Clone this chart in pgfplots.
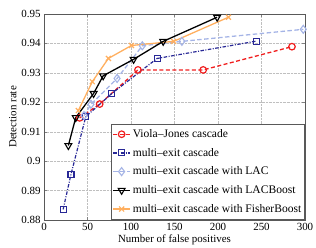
\documentclass[border=0pt]{standalone}
\usepackage{fontspec}
\setmainfont{Liberation Serif}
\usepackage{pgfplots}
\pgfplotsset{compat=1.18}
\definecolor{vjred}{RGB}{240,30,30}
\definecolor{menavy}{RGB}{40,40,150}
\definecolor{laclight}{RGB}{165,180,230}
\definecolor{fborange}{RGB}{255,175,95}
\begin{document}
\begin{tikzpicture}
\useasboundingbox (-44bp,-28bp) rectangle (272bp,220bp);
\begin{axis}[
  at={(0,0)}, anchor=south west,
  scale only axis, width=261bp, height=206bp,
  xmin=0, xmax=300, ymin=0.88, ymax=0.95,
  xtick={0,50,100,150,200,250,300},
  ytick={0.88,0.89,0.9,0.91,0.92,0.93,0.94,0.95},
  yticklabel style={/pgf/number format/fixed, /pgf/number format/precision=2},
  grid=major, grid style={densely dotted, gray!50},
  axis line style={gray!70!black},
  major tick length=3bp,
  /pgf/number format/assume math mode=true,
  ticklabel style={font=\fontsize{11}{12}\selectfont},
  label style={font=\fontsize{11}{12}\selectfont},
  xlabel={Number of false positives},
  ylabel={Detection rate},
  xlabel style={yshift=3bp},
  ylabel style={yshift=-2bp},
  legend cell align=left,
  legend style={at={(0.998,0.005)}, anchor=south east, draw=gray!70!black,
    font=\fontsize{11.6}{12}\selectfont, row sep=5.2bp, inner xsep=1bp, inner ysep=3bp},
]
\addplot[vjred, dash pattern=on 4pt off 2.5pt, line width=1.3pt, mark=o, mark size=3.3pt, mark options={solid, line width=1.2pt}]
  coordinates {(41,0.9147) (64,0.9194) (108,0.931) (183,0.931) (285,0.9389)};
\addlegendentry{Viola--Jones cascade}
\addplot[menavy, dash pattern=on 3.5pt off 1.5pt on 1pt off 1.5pt, line width=1.2pt, mark=square, mark size=3pt, mark options={solid, line width=1.1pt}]
  coordinates {(22,0.8836) (31,0.8955) (48,0.9151) (78,0.923) (130,0.9349) (244.5,0.9408)};
\addlegendentry{multi--exit cascade}
\addplot[laclight, dash pattern=on 4.5pt off 2.5pt, line width=1.3pt, mark=diamond, mark size=4pt, mark options={solid, line width=1.1pt}]
  coordinates {(46,0.9155) (54,0.9193) (84,0.9281) (113,0.9392) (158.5,0.9407) (298,0.9448)};
\addlegendentry{multi--exit cascade with LAC}
\addplot[fborange, line width=1.3pt, mark=x, mark size=3.5pt, mark options={solid, line width=1.2pt}, forget plot]
  coordinates {(39.5,0.9172) (55.5,0.927) (74,0.9349) (100.5,0.9393) (149,0.9407) (212,0.9489)};
\addplot[black, line width=1.3pt, mark=triangle, mark size=4pt, mark options={solid, rotate=180, line width=1.1pt}]
  coordinates {(28,0.9053) (36.5,0.9148) (57,0.923) (68,0.929) (103,0.9346) (137,0.9407) (199,0.9489)};
\addlegendentry{multi--exit cascade with LACBoost}
\addlegendimage{fborange, line width=1.3pt, mark=x, mark size=3.5pt, mark options={solid, line width=1.2pt}}
\addlegendentry{multi--exit cascade with FisherBoost}
\end{axis}
\end{tikzpicture}
\end{document}
